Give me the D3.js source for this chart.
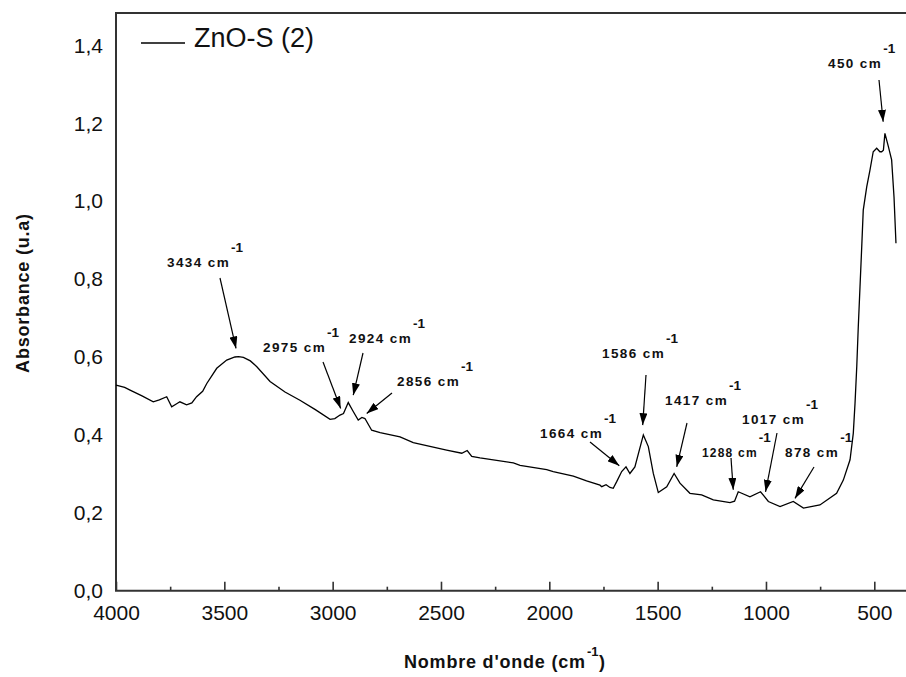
<!DOCTYPE html>
<html>
<head>
<meta charset="utf-8">
<script src="https://cdn.jsdelivr.net/npm/d3@7"></script>
<style>
  body { margin: 0; background: #fff; }
  svg { display: block; font-family: "Liberation Sans", Arial, sans-serif; }
</style>
</head>
<body>
<div class="chart"></div>
<script>
// FTIR spectrum of ZnO-S (2)
// =====================================================
var wavenumbers = [4000, 3960, 3935, 3880, 3828, 3800, 3766, 3743, 3720, 3705, 3674, 3650, 3628, 3600,
  3581, 3535, 3489, 3451, 3434, 3412, 3380, 3350, 3289, 3220, 3151, 3080, 3012, 2990, 2966, 2950,
  2928, 2905, 2882, 2865, 2851, 2820, 2781, 2689, 2628, 2474, 2404, 2379, 2358, 2320, 2166, 2135,
  2012, 1982, 1889, 1828, 1766, 1758, 1738, 1720, 1705, 1689, 1666, 1646, 1628, 1605, 1566, 1543,
  1520, 1497, 1458, 1424, 1397, 1351, 1297, 1243, 1166, 1145, 1128, 1074, 1025, 989, 935, 874,
  827, 751, 674, 643, 612, 597, 589, 581, 574, 566, 558, 551, 535, 520, 505, 489, 474, 466, 458,
  451, 435, 420, 409, 400];
var absorbance = [0.528, 0.522, 0.515, 0.500, 0.485, 0.490, 0.498, 0.472, 0.480, 0.485, 0.477, 0.482, 0.498, 0.512,
  0.532, 0.571, 0.592, 0.600, 0.601, 0.599, 0.590, 0.575, 0.537, 0.510, 0.489, 0.465, 0.440, 0.442, 0.451, 0.455,
  0.483, 0.460, 0.438, 0.445, 0.442, 0.412, 0.406, 0.395, 0.380, 0.361, 0.353, 0.360, 0.345, 0.341, 0.328, 0.322,
  0.311, 0.306, 0.294, 0.282, 0.271, 0.267, 0.272, 0.265, 0.263, 0.280, 0.306, 0.318, 0.301, 0.318, 0.400, 0.370,
  0.301, 0.252, 0.267, 0.301, 0.276, 0.250, 0.246, 0.233, 0.226, 0.230, 0.254, 0.241, 0.254, 0.229, 0.216, 0.229,
  0.212, 0.220, 0.250, 0.284, 0.336, 0.404, 0.481, 0.575, 0.677, 0.780, 0.883, 0.977, 1.037, 1.080, 1.127, 1.136, 1.127, 1.127, 1.131,
  1.174, 1.140, 1.106, 1.011, 0.892];

var xTicks = [4000, 3500, 3000, 2500, 2000, 1500, 1000, 500];
var xMinorTicks = [3750, 3250, 2750, 2250, 1750, 1250, 750];
var yTicks = [0, 0.2, 0.4, 0.6, 0.8, 1.0, 1.2, 1.4];

var seriesName = "ZnO-S (2)";
var xTitle = "Nombre d'onde (cm";
var yTitle = "Absorbance (u.a)";

// peak annotations: label and the point the arrow is aimed at
var peakLabels = ["3434 cm", "2975 cm", "2924 cm", "2856 cm", "1664 cm", "1586 cm", "1417 cm", "1288 cm", "1017 cm", "878 cm", "450 cm"];
var peakTipWn = [3446, 2963, 2905, 2843, 1677, 1569, 1412, 1151, 1002, 866, 459];
var peakTipAbs = [0.622, 0.468, 0.502, 0.455, 0.321, 0.425, 0.318, 0.259, 0.254, 0.237, 1.204];

// Step 1: chart setup
// ================================
var svgWidth = 906;
var svgHeight = 677;

var plotLeft = 116, plotBottom = 590.7, plotTop = 13;

var svg = d3.select(".chart")
  .append("svg")
  .attr("width", svgWidth)
  .attr("height", svgHeight);

// Step 2: scales
// ================================
var xScale = d3.scaleLinear().domain([4000, 500]).range([plotLeft, 874.3]);
var yScale = d3.scaleLinear().domain([0, 1.48]).range([plotBottom, plotBottom - 1.48 * 389.5]);

var axisColor = "#333";

// Step 3: axes
// ================================
var bottomAxis = d3.axisBottom(xScale)
  .tickValues(xTicks)
  .tickSizeInner(-9).tickSizeOuter(0)
  .tickPadding(14)
  .tickFormat(d3.format("d"));

svg.append("g")
  .attr("transform", `translate(0, ${plotBottom})`)
  .call(bottomAxis);

svg.append("g")
  .attr("transform", `translate(0, ${plotBottom})`)
  .call(d3.axisBottom(xScale).tickValues(xMinorTicks).tickSizeInner(-4).tickSizeOuter(0).tickFormat(""));

var leftAxis = d3.axisLeft(yScale)
  .tickValues(yTicks)
  .tickSize(0)
  .tickPadding(13)
  .tickFormat(d => d3.format(".1f")(d).replace(".", ","));

svg.append("g")
  .attr("transform", `translate(${plotLeft}, 0)`)
  .call(leftAxis);

svg.selectAll(".domain").remove();
svg.selectAll(".tick line").attr("stroke", axisColor).attr("stroke-width", 1.6);
svg.selectAll(".tick text")
  .attr("font-family", "'Liberation Sans', Arial, sans-serif")
  .attr("font-size", 21)
  .attr("fill", "#111");

// frame: left, bottom, top (the right edge runs off the picture)
svg.append("path")
  .attr("d", `M${svgWidth + 2},${plotTop}H${plotLeft}V${plotBottom}H${svgWidth + 2}`)
  .attr("fill", "none")
  .attr("stroke", axisColor)
  .attr("stroke-width", 2);

// Step 4: spectrum line
// ================================
var points = wavenumbers.map((w, i) => [w, absorbance[i]]);

svg.append("path")
  .datum(points)
  .attr("d", d3.line().x(d => xScale(d[0])).y(d => yScale(d[1])))
  .attr("fill", "none")
  .attr("stroke", "#000")
  .attr("stroke-width", 1.3);

// Step 5: legend
// ================================
svg.append("line")
  .attr("x1", 141).attr("x2", 185).attr("y1", 43).attr("y2", 43)
  .attr("stroke", "#000").attr("stroke-width", 1.3);

svg.append("text")
  .attr("x", 194).attr("y", 47)
  .attr("font-size", 27)
  .attr("fill", "#111")
  .text(seriesName);

// Step 6: axis titles
// ================================
var xt = svg.append("text")
  .attr("x", 404).attr("y", 668)
  .attr("font-size", 18)
  .attr("font-weight", "bold")
  .attr("letter-spacing", 0.8)
  .attr("fill", "#111")
  .text(xTitle);
var xtEnd = 404 + xt.node().getComputedTextLength();
svg.append("text").attr("x", xtEnd + 1).attr("y", 656)
  .attr("font-size", 13).attr("font-weight", "bold").attr("fill", "#111").text("-1");
svg.append("text").attr("x", xtEnd + 13).attr("y", 668)
  .attr("font-size", 18).attr("font-weight", "bold").attr("fill", "#111").text(")");

svg.append("text")
  .attr("transform", "translate(29, 293) rotate(-90)")
  .attr("text-anchor", "middle")
  .attr("font-size", 18)
  .attr("font-weight", "bold")
  .attr("letter-spacing", 0.8)
  .attr("fill", "#111")
  .text(yTitle);

// Step 7: peak annotations
// ================================
svg.append("defs").append("marker")
  .attr("id", "head")
  .attr("viewBox", "0 0 12 8")
  .attr("refX", 12).attr("refY", 4)
  .attr("markerWidth", 12).attr("markerHeight", 8)
  .attr("markerUnits", "userSpaceOnUse")
  .attr("orient", "auto")
  .append("path")
  .attr("d", "M0,0L12,4L0,8Z")
  .attr("fill", "#000");

// label placement: text start x, baseline y, arrow tail x, y, font size
var labelPos = [
  [167, 267, 220, 278, 13.5],
  [263, 352, 323, 362, 13.5],
  [349, 343, 363, 353, 13.5],
  [397, 386, 392, 393, 13.5],
  [540, 438, 590, 442, 13.5],
  [602, 358, 646, 375, 13.5],
  [665, 405, 687, 423, 13.5],
  [702, 457, 731, 458, 12],
  [742, 424, 777, 433, 13.5],
  [785, 457, 814, 467, 13.5],
  [828, 68, 879, 80, 13.5]
];

peakLabels.forEach(function (label, i) {
  var p = labelPos[i];
  var t = svg.append("text")
    .attr("x", p[0]).attr("y", p[1])
    .attr("font-size", p[4])
    .attr("font-weight", "bold")
    .attr("letter-spacing", p[4] > 13 ? 1.4 : 1.2)
    .attr("fill", "#111")
    .text(label);
  var end = p[0] + t.node().getComputedTextLength();
  svg.append("text")
    .attr("x", end + 1).attr("y", p[1] - 15)
    .attr("font-size", 13.5)
    .attr("font-weight", "bold")
    .attr("fill", "#111")
    .text("-1");

  svg.append("line")
    .attr("x1", p[2]).attr("y1", p[3])
    .attr("x2", xScale(peakTipWn[i])).attr("y2", yScale(peakTipAbs[i]))
    .attr("stroke", "#000")
    .attr("stroke-width", 1.2)
    .attr("marker-end", "url(#head)");
});
</script>
</body>
</html>
